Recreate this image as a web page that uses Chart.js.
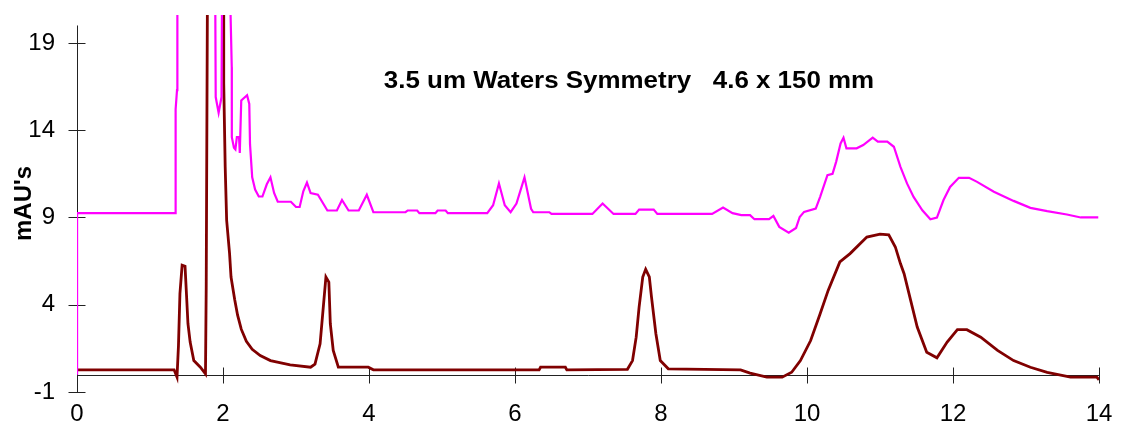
<!DOCTYPE html>
<html>
<head>
<meta charset="utf-8">
<script src="https://cdn.jsdelivr.net/npm/chart.js@4.4.1/dist/chart.umd.min.js"></script>
<style>
  html, body { margin: 0; background: #fff; }
  #wrap { width: 1125px; height: 424px; }
</style>
</head>
<body>
<div id="wrap"><canvas id="chrom"></canvas></div>
<script>
// retention time (min) and absorbance (mAU)
const pinkTime = [0, 0.001, 1.35, 1.351, 1.37, 1.375, 1.89, 1.90, 1.94, 1.98, 1.99, 2.08, 2.12, 2.121, 2.15, 2.17, 2.19, 2.22, 2.23, 2.25, 2.33, 2.36, 2.37, 2.40, 2.44, 2.49, 2.54, 2.60, 2.65, 2.70, 2.75, 2.93, 3.00, 3.05, 3.10, 3.15, 3.20, 3.30, 3.43, 3.56, 3.63, 3.72, 3.86, 3.97, 4.06, 4.50, 4.53, 4.66, 4.69, 4.91, 4.94, 5.05, 5.08, 5.62, 5.70, 5.78, 5.86, 5.94, 6.02, 6.13, 6.22, 6.25, 6.47, 6.50, 7.06, 7.20, 7.35, 7.65, 7.70, 7.90, 7.95, 8.70, 8.85, 8.98, 9.10, 9.22, 9.28, 9.48, 9.54, 9.62, 9.75, 9.85, 9.90, 9.96, 10.12, 10.18, 10.28, 10.35, 10.40, 10.46, 10.50, 10.54, 10.68, 10.77, 10.90, 10.97, 11.10, 11.19, 11.28, 11.37, 11.46, 11.58, 11.69, 11.78, 11.87, 11.96, 12.08, 12.22, 12.33, 12.56, 12.83, 13.06, 13.29, 13.56, 13.75, 13.99];
const pinkAbs  = [0.05, 9.25, 9.25, 15.2, 16.3, 25, 25, 15.9, 15.0, 15.9, 25, 25, 17.6, 13.6, 13.0, 12.9, 13.6, 13.6, 12.7, 15.7, 16.0, 15.5, 13.2, 11.3, 10.6, 10.2, 10.2, 10.9, 11.3, 10.4, 9.9, 9.9, 9.6, 9.6, 10.5, 11.0, 10.4, 10.3, 9.4, 9.4, 10.0, 9.4, 9.4, 10.3, 9.3, 9.3, 9.4, 9.4, 9.25, 9.25, 9.4, 9.4, 9.25, 9.25, 9.7, 10.95, 9.7, 9.3, 9.8, 11.3, 9.5, 9.3, 9.3, 9.2, 9.2, 9.8, 9.2, 9.2, 9.45, 9.45, 9.2, 9.2, 9.57, 9.25, 9.13, 9.13, 8.9, 8.9, 9.09, 8.46, 8.13, 8.4, 9.03, 9.32, 9.51, 10.18, 11.42, 11.5, 12.2, 13.24, 13.57, 12.96, 12.96, 13.15, 13.57, 13.34, 13.34, 13.05, 11.9, 10.95, 10.18, 9.41, 8.9, 8.99, 10.0, 10.75, 11.27, 11.27, 11.04, 10.47, 9.95, 9.55, 9.36, 9.17, 9.0, 9.0];

const redTime = [0, 1.33, 1.37, 1.39, 1.41, 1.44, 1.48, 1.50, 1.52, 1.55, 1.60, 1.69, 1.76, 1.77, 1.79, 2.00, 2.01, 2.03, 2.05, 2.09, 2.11, 2.16, 2.20, 2.25, 2.32, 2.40, 2.51, 2.65, 2.92, 3.20, 3.26, 3.33, 3.37, 3.41, 3.45, 3.47, 3.51, 3.58, 3.99, 4.06, 6.33, 6.35, 6.69, 6.71, 7.54, 7.61, 7.66, 7.70, 7.75, 7.79, 7.84, 7.87, 7.93, 7.99, 8.10, 9.09, 9.22, 9.45, 9.66, 9.79, 9.91, 10.05, 10.18, 10.29, 10.45, 10.59, 10.82, 11.00, 11.12, 11.21, 11.28, 11.33, 11.42, 11.51, 11.64, 11.78, 11.92, 12.06, 12.19, 12.38, 12.61, 12.83, 13.06, 13.29, 13.61, 13.97, 14.0];
const redAbs  = [0.27, 0.27, -0.15, 1.66, 4.63, 6.26, 6.2, 4.57, 2.91, 1.86, 0.8, 0.42, 0.04, 5.0, 25, 25, 16.7, 11.9, 8.84, 6.93, 5.59, 4.3, 3.4, 2.6, 1.9, 1.45, 1.09, 0.8, 0.56, 0.42, 0.6, 1.76, 3.67, 5.59, 5.3, 2.91, 1.38, 0.42, 0.42, 0.27, 0.27, 0.42, 0.42, 0.27, 0.3, 0.8, 2.14, 3.86, 5.59, 6.03, 5.6, 4.44, 2.34, 0.8, 0.33, 0.27, 0.08, -0.15, -0.15, 0.13, 0.8, 1.95, 3.48, 4.82, 6.45, 6.93, 7.88, 8.04, 8.0, 7.31, 6.36, 5.78, 4.25, 2.72, 1.28, 0.96, 1.86, 2.57, 2.57, 2.14, 1.38, 0.8, 0.42, 0.13, -0.15, -0.15, -0.3];

const yTicks = [-1, 4, 9, 14, 19];
const chartTitle = '3.5 um Waters Symmetry   4.6 x 150 mm';

const toPoints = (t, v) => t.map((x, i) => ({ x, y: v[i] }));

// axis line at y=0 plus ticks that cross both axes
const axesPlugin = {
    id: 'crossAxes',
    beforeDatasetsDraw(chart) {
        const { ctx, scales: { x, y } } = chart;
        const y0 = Math.round(y.getPixelForValue(0)) + 0.5;
        const x0 = Math.round(x.getPixelForValue(0)) + 0.5;
        ctx.save();
        ctx.strokeStyle = '#222';
        ctx.lineWidth = 1;
        ctx.beginPath();
        ctx.moveTo(x0, y0);
        ctx.lineTo(x.getPixelForValue(14), y0);
        ctx.moveTo(x0, y.getPixelForValue(20));
        ctx.lineTo(x0, y.getPixelForValue(-1));
        for (let t = 2; t <= 14; t += 2) {
            const px = Math.round(x.getPixelForValue(t)) + 0.5;
            ctx.moveTo(px, y0 - 8);
            ctx.lineTo(px, y0 + 8);
        }
        yTicks.forEach(v => {
            const py = Math.round(y.getPixelForValue(v)) + 0.5;
            ctx.moveTo(x0 - 9, py);
            ctx.lineTo(x0 + 8, py);
        });
        ctx.stroke();
        ctx.restore();
    },
    afterDraw(chart) {
        const { ctx } = chart;
        ctx.save();
        ctx.fillStyle = '#000';
        ctx.font = 'bold 24px "Liberation Sans", Arial, sans-serif';
        ctx.textAlign = 'center';
        ctx.textBaseline = 'alphabetic';
        // the original lettering is a bit wider than Arial bold
        ctx.translate(629, 88);
        ctx.scale(1.08, 1);
        ctx.fillText(chartTitle, 0, 0);
        ctx.restore();
    }
};

new Chart(document.getElementById('chrom'), {
    type: 'line',
    data: {
        datasets: [
            {
                label: 'pink',
                data: toPoints(pinkTime, pinkAbs),
                borderColor: '#ff00ff',
                borderWidth: 2.2,
                pointRadius: 0,
                order: 0
            },
            {
                label: 'red',
                data: toPoints(redTime, redAbs),
                borderColor: '#800000',
                borderWidth: 2.8,
                pointRadius: 0,
                order: 1
            }
        ]
    },
    options: {
        responsive: true,
        maintainAspectRatio: false,
        animation: false,
        layout: { padding: { top: 15, right: 26, left: 0, bottom: 0 } },
        plugins: {
            legend: { display: false },
            tooltip: { enabled: false }
        },
        scales: {
            x: {
                type: 'linear',
                min: 0,
                max: 14,
                grid: { display: false, drawTicks: true, tickLength: 8 },
                border: { display: false },
                ticks: {
                    stepSize: 2,
                    padding: 0,
                    color: '#000',
                    font: { family: '"Liberation Sans", Arial, sans-serif', size: 24 }
                },
                afterFit(scale) { scale.height = 32; }
            },
            y: {
                min: -1,
                max: 20.6,
                grid: { display: false, drawTicks: true, tickLength: 22 },
                border: { display: false },
                ticks: {
                    padding: 0,
                    color: '#000',
                    font: { family: '"Liberation Sans", Arial, sans-serif', size: 24 }
                },
                afterBuildTicks(scale) {
                    scale.ticks = yTicks.map(value => ({ value }));
                },
                title: {
                    display: true,
                    text: "mAU's",
                    color: '#000',
                    padding: { top: 10, bottom: 0 },
                    font: { family: '"Liberation Sans", Arial, sans-serif', size: 24, weight: 'bold' }
                },
                afterFit(scale) { scale.width = 77; }
            }
        }
    },
    plugins: [axesPlugin]
});
</script>
</body>
</html>
